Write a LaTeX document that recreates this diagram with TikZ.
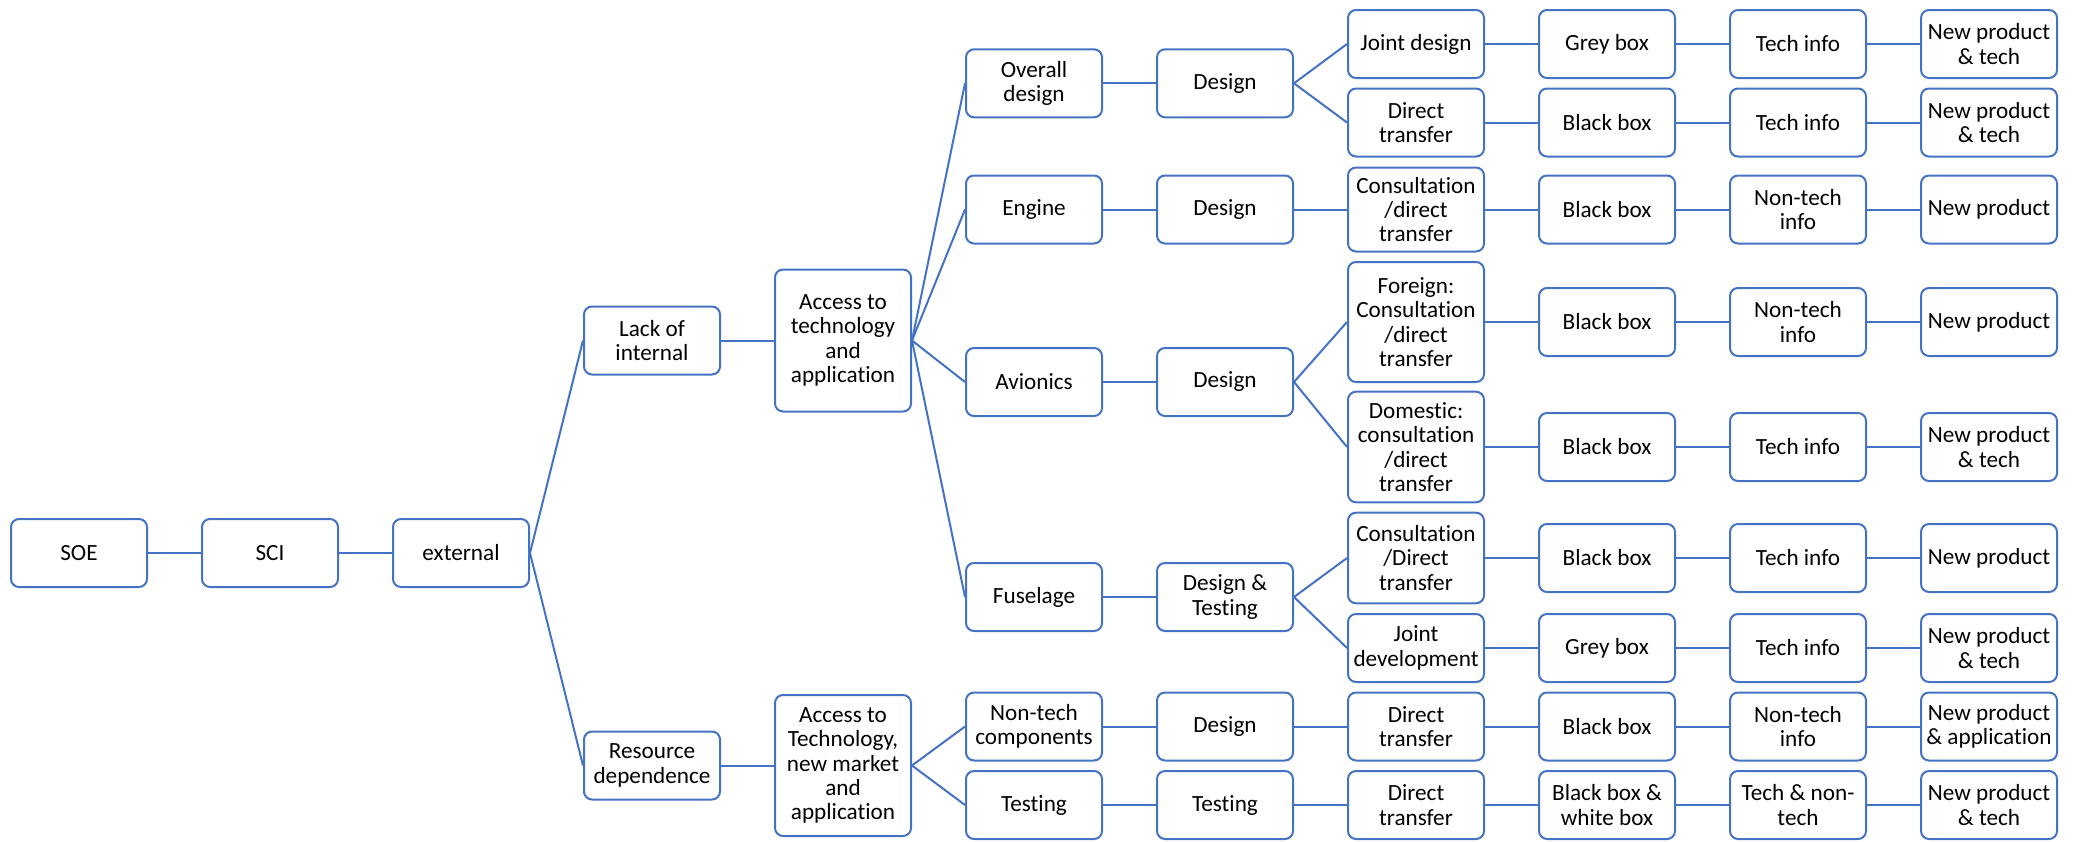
\documentclass[tikz,border=0pt]{standalone}
\usepackage{fontspec}
\setmainfont{Carlito}[Ligatures=NoCommon]
\definecolor{boxblue}{HTML}{4472C4}

\begin{document}
\begin{tikzpicture}[x=0.5pt, y=-0.5pt,
    blk/.style={draw=boxblue, line width=1pt, rounded corners=4pt, align=center,
        minimum width=68pt, minimum height=34pt, inner sep=1pt,
        font=\fontsize{11.6}{12.2}\selectfont},
    lnk/.style={draw=boxblue, line width=1pt}]
    \useasboundingbox (0,0) rectangle (2081,841);
%
    \node[blk] (soe) at (79,553) {SOE};
    \node[blk] (sci) at (270,553) {SCI};
    \node[blk] (ext) at (461,553) {external};
    \node[blk] (lack) at (652,340.5) {Lack of\\internal};
    \node[blk] (res) at (652,765.5) {Resource\\dependence};
    \node[blk, minimum height=71pt] (acc1) at (843,340.5)
        {Access to\\technology\\and\\application};
    \node[blk, minimum height=70.5pt] (acc2) at (843,765.5)
        {Access to\\Technology,\\new market\\and\\application};
%
    \foreach \id/\yy/\ta/\tb in {
        ov/83.3/{Overall\\design}/Design,
        en/209.5/Engine/Design,
        av/382/Avionics/Design,
        fu/597/Fuselage/{Design \&\\Testing},
        nt/726.5/{Non-tech\\components}/Design,
        te/805/Testing/Testing}{
        \node[blk] (p\id) at (1034,\yy) {\ta};
        \node[blk] (q\id) at (1225,\yy) {\tb};
        \draw[lnk] (p\id.east) -- (q\id.west);
    }
%
    \foreach \id/\yy/\hh/\ta/\tb/\tc/\td in {
        1/44/34pt/{Joint design}/{Grey box}/{Tech info}/{New product\\\& tech},
        2/122.5/34pt/{Direct\\transfer}/{Black box}/{Tech info}/{New product\\\& tech},
        3/209.5/42pt/{Consultation\\/direct\\transfer}/{Black box}/{Non-tech\\info}/{New product},
        4/322/60pt/{Foreign:\\Consultation\\/direct\\transfer}/{Black box}/{Non-tech\\info}/{New product},
        5/447/55.3pt/{Domestic:\\consultation\\/direct\\transfer}/{Black box}/{Tech info}/{New product\\\& tech},
        6/558/45.3pt/{Consultation\\/Direct\\transfer}/{Black box}/{Tech info}/{New product},
        7/648/34pt/{Joint\\development}/{Grey box}/{Tech info}/{New product\\\& tech},
        8/726.5/34pt/{Direct\\transfer}/{Black box}/{Non-tech\\info}/{New product\\\& application},
        9/805/34pt/{Direct\\transfer}/{Black box \&\\white box}/{Tech \& non-\\tech}/{New product\\\& tech}}{
        \node[blk, minimum height=\hh] (a\id) at (1416,\yy) {\ta};
        \node[blk] (b\id) at (1607,\yy) {\tb};
        \node[blk] (c\id) at (1798,\yy) {\tc};
        \node[blk] (d\id) at (1989,\yy) {\td};
        \draw[lnk] (a\id.east) -- (b\id.west) (b\id.east) -- (c\id.west) (c\id.east) -- (d\id.west);
    }
%
    \draw[lnk] (soe.east) -- (sci.west) (sci.east) -- (ext.west);
    \draw[lnk] (lack.west) -- (ext.east) -- (res.west);
    \draw[lnk] (lack.east) -- (acc1.west) (res.east) -- (acc2.west);
    \foreach \k in {ov,en,av,fu} \draw[lnk] (acc1.east) -- (p\k.west);
    \foreach \k in {nt,te} \draw[lnk] (acc2.east) -- (p\k.west);
%
    \draw[lnk] (a1.west) -- (qov.east) -- (a2.west);
    \draw[lnk] (qen.east) -- (a3.west);
    \draw[lnk] (a4.west) -- (qav.east) -- (a5.west);
    \draw[lnk] (a6.west) -- (qfu.east) -- (a7.west);
    \draw[lnk] (qnt.east) -- (a8.west);
    \draw[lnk] (qte.east) -- (a9.west);
\end{tikzpicture}
\end{document}
